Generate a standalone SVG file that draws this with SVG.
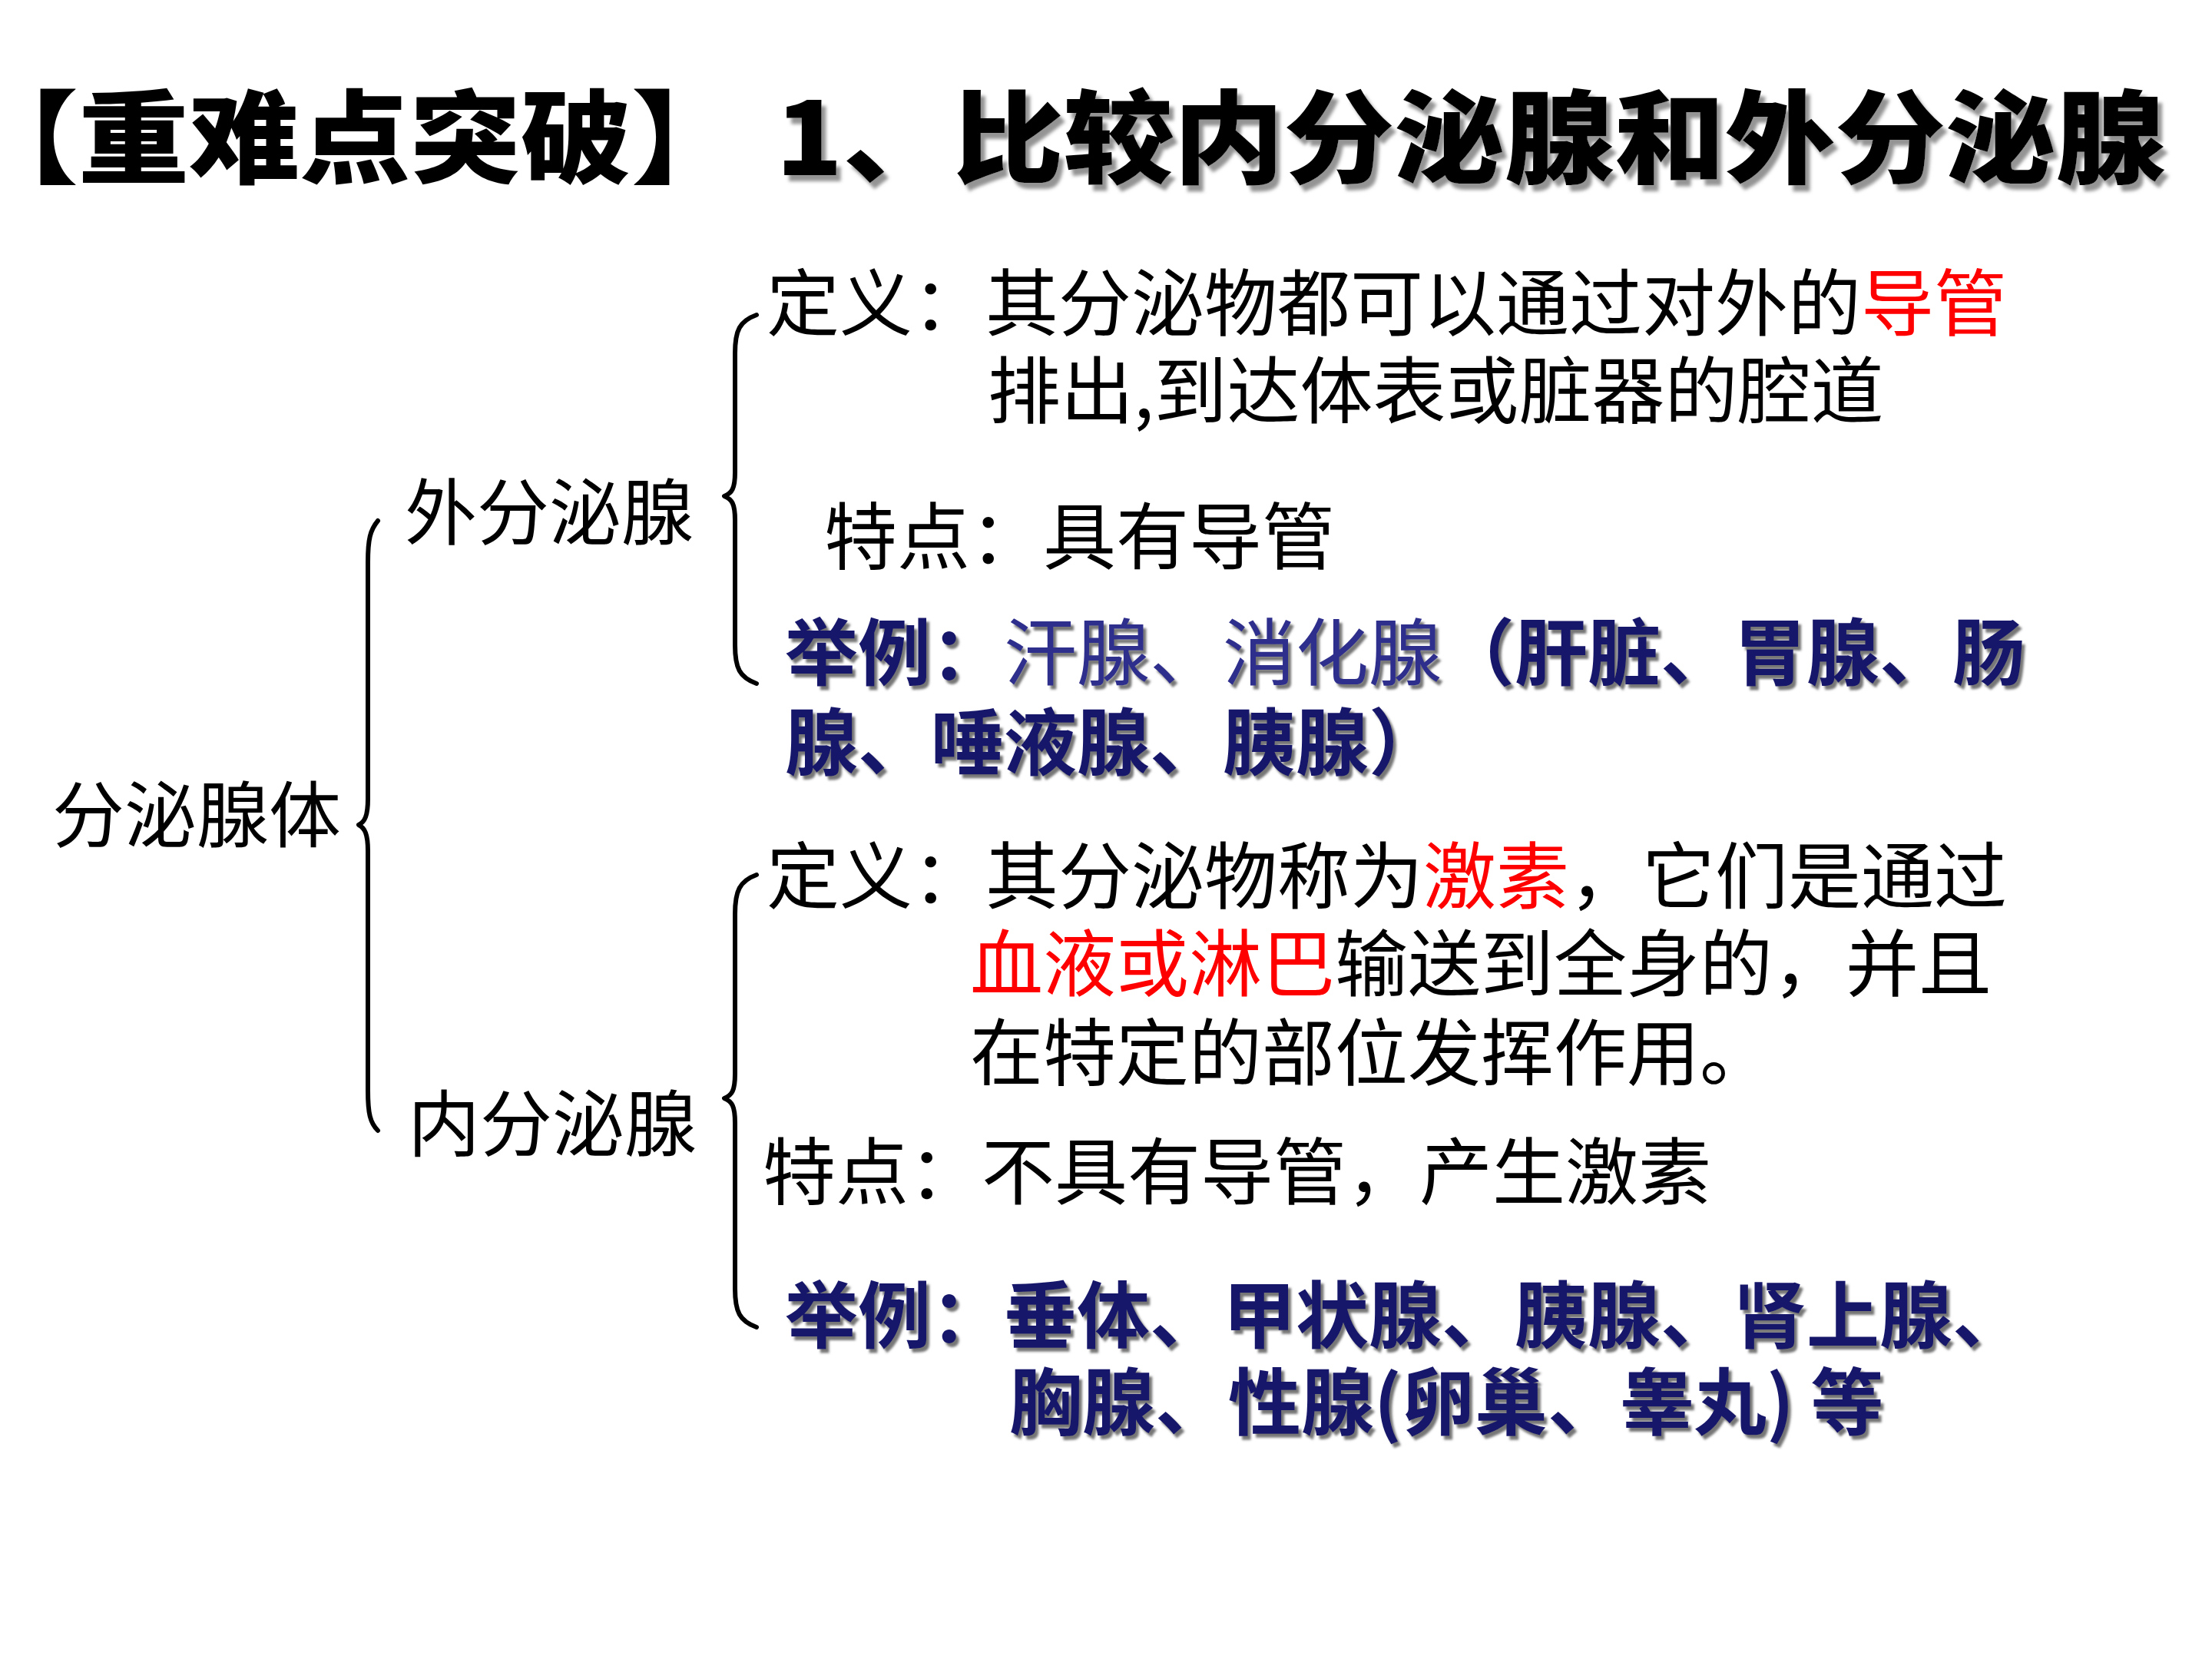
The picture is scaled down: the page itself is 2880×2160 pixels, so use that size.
<svg xmlns="http://www.w3.org/2000/svg" width="2880" height="2160" viewBox="0 0 2880 2160">
<style>
text{font-family:"Noto Sans CJK SC","Noto Sans",sans-serif}
.t{font-size:95px;fill:#000}
.lbl{font-size:94px;fill:#000}
.red{fill:#ff0000}
.nv{fill:#16166a;font-weight:700;filter:url(#sh)}
.nl{fill:#2e2e8c;font-weight:400;filter:none}
.br{fill:none;stroke:#000;stroke-width:6;stroke-linecap:round;stroke-linejoin:round}
</style>
<defs>
<filter id="sh" x="-5%" y="-20%" width="110%" height="140%">
<feDropShadow dx="4" dy="5" stdDeviation="1.5" flood-color="#555" flood-opacity="0.8"/>
</filter>
<filter id="tsh" x="-5%" y="-20%" width="110%" height="140%">
<feDropShadow dx="6" dy="8" stdDeviation="2" flood-color="#888" flood-opacity="0.9"/>
</filter>
</defs>
<rect width="2880" height="2160" fill="#fff"/>
<g id="title">
<text x="-42" y="228" font-size="132" font-weight="900" textLength="1008" lengthAdjust="spacingAndGlyphs">【重难点突破】</text>
<text x="1010" y="228" font-size="132" font-weight="900" textLength="1810" lengthAdjust="spacingAndGlyphs" filter="url(#tsh)">1、比较内分泌腺和外分泌腺</text>
</g>
<g id="connectors">
<path class="br" d="M492 678 C482 690 479 702 479 732 L479 1040 C479 1062 475 1070 467 1074 C475 1078 479 1086 479 1108 L479 1420 C479 1450 482 1462 492 1472"/>
<path class="br" d="M985 410 C963 418 957 430 957 460 L957 615 C957 636 953 642 943 646 C953 650 957 656 957 677 L957 840 C957 870 963 882 985 890"/>
<path class="br" d="M985 1139 C963 1147 957 1160 957 1190 L957 1398 C957 1420 953 1426 943 1430 C953 1434 957 1440 957 1462 L957 1678 C957 1708 963 1720 985 1728"/>
</g>
<g id="root"><text class="lbl" x="68" y="1096">分泌腺体</text></g>
<g id="exo"><text class="lbl" x="527" y="702">外分泌腺</text></g>
<g id="endo"><text class="lbl" x="531" y="1498">内分泌腺</text></g>
<g id="exo-def">
<text class="t" x="998" y="430">定义：其分泌物都可以通过对外的<tspan class="red">导管</tspan></text>
<text class="t" x="1286" y="544">排出,到达体表或脏器的腔道</text>
</g>
<g id="exo-feature"><text class="t" x="1073" y="734">特点：具有导管</text></g>
<g id="exo-example">
<text class="t nv" x="1022" y="885">举例：<tspan class="nl">汗腺、消化腺</tspan>（肝脏、胃腺、肠</text>
<text class="t nv" x="1022" y="1002">腺、唾液腺、胰腺）</text>
</g>
<g id="endo-def">
<text class="t" x="998" y="1176">定义：其分泌物称为<tspan class="red">激素</tspan>，它们是通过</text>
<text class="t" x="1263" y="1290"><tspan class="red">血液或淋巴</tspan>输送到全身的，并且</text>
<text class="t" x="1263" y="1406">在特定的部位发挥作用。</text>
</g>
<g id="endo-feature"><text class="t" x="993" y="1561">特点：不具有导管，产生激素</text></g>
<g id="endo-example">
<text class="t nv" x="1022" y="1748">举例：垂体、甲状腺、胰腺、肾上腺、</text>
<text class="t nv" x="1314" y="1861">胸腺、性腺(卵巢、睾丸) 等</text>
</g>
</svg>
